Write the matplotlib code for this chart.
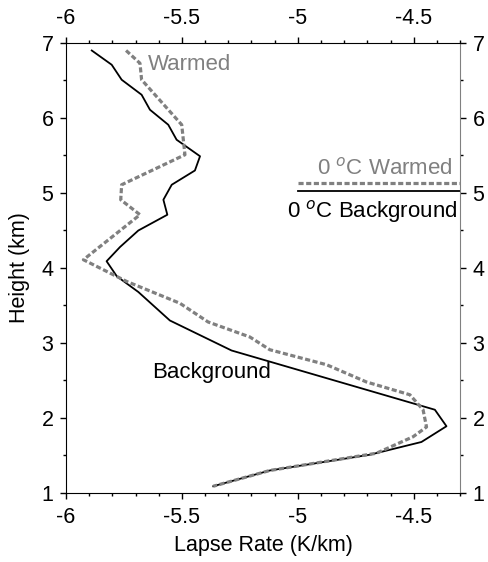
import numpy as np
import matplotlib.pyplot as plt
from matplotlib.ticker import MultipleLocator

plt.rcParams['font.family'] = ['Liberation Sans', 'DejaVu Sans']

# Background lapse rate profile (K/km) vs height (km)
bg_height = [6.90, 6.71, 6.51, 6.31, 6.11, 5.91, 5.71, 5.49, 5.30, 5.11, 4.91, 4.71,
             4.50, 4.28, 4.09, 3.89, 3.68, 3.30, 2.90, 2.11, 1.89, 1.68, 1.51, 1.30, 1.09]
bg_rate = [-5.889, -5.803, -5.760, -5.674, -5.638, -5.559, -5.523, -5.422, -5.444, -5.544,
           -5.580, -5.563, -5.688, -5.767, -5.825, -5.781, -5.688, -5.552, -5.286, -4.409,
           -4.359, -4.467, -4.690, -5.121, -5.365]

# Warmed profile
wm_height = [6.90, 6.73, 6.51, 5.91, 5.71, 5.51, 5.11, 4.91, 4.71, 4.11, 3.82, 3.53,
             3.28, 3.08, 2.91, 2.71, 2.48, 2.31, 2.11, 1.88, 1.75, 1.53, 1.30, 1.09]
wm_rate = [-5.741, -5.681, -5.674, -5.501, -5.494, -5.487, -5.760, -5.764, -5.681, -5.925,
           -5.738, -5.509, -5.387, -5.207, -5.121, -4.876, -4.704, -4.517, -4.460, -4.445,
           -4.503, -4.661, -5.121, -5.365]

# 0 C levels
zero_bg = 5.02
zero_wm = 5.13

grey = '#808080'

fig = plt.figure(figsize=(4.89, 5.62), dpi=100)
ax = fig.add_axes([0.135, 0.1228, 0.806, 0.8007])

ax.plot(bg_rate, bg_height, color='black', lw=1.3)
ax.plot(wm_rate, wm_height, color=grey, lw=2.3, dashes=(1.6, 0.8))

ax.plot([-5.0, -4.3], [zero_wm, zero_wm], color=grey, lw=2.3, dashes=(1.6, 0.8))
ax.plot([-5.0, -4.3], [zero_bg, zero_bg], color='black', lw=1.3)

ax.text(-5.647, 6.71, 'Warmed', color=grey, fontsize=16, va='center', ha='left')
ax.text(-5.63, 2.6, 'Background', color='black', fontsize=16, va='center', ha='left')
ax.text(-4.33, 5.33, '0 $^o$C Warmed', color=grey, fontsize=16, va='center', ha='right')
ax.text(-4.31, 4.75, '0 $^o$C Background', color='black', fontsize=16, va='center', ha='right')

ax.set_xlim(-6, -4.3)
ax.set_ylim(1, 7)
ax.xaxis.set_major_locator(MultipleLocator(0.5))
ax.xaxis.set_minor_locator(MultipleLocator(0.1))
ax.yaxis.set_major_locator(MultipleLocator(1))
ax.yaxis.set_minor_locator(MultipleLocator(0.5))
ax.xaxis.set_major_formatter(plt.FuncFormatter(lambda v, p: f'{v:g}'))

ax.tick_params(which='both', direction='out', top=True, right=True,
               labeltop=True, labelright=True, labelsize=15.5)
ax.tick_params(which='major', length=4, width=1, pad=6)
ax.tick_params(which='minor', length=2.5, width=1)
ax.tick_params(axis='y', which='major', pad=5)
ax.spines['right'].set_color(grey)

ax.set_xlabel('Lapse Rate (K/km)', fontsize=15.5, labelpad=5)
ax.set_ylabel('Height (km)', fontsize=15.5, labelpad=8)

fig.savefig('out.png', dpi=100)
